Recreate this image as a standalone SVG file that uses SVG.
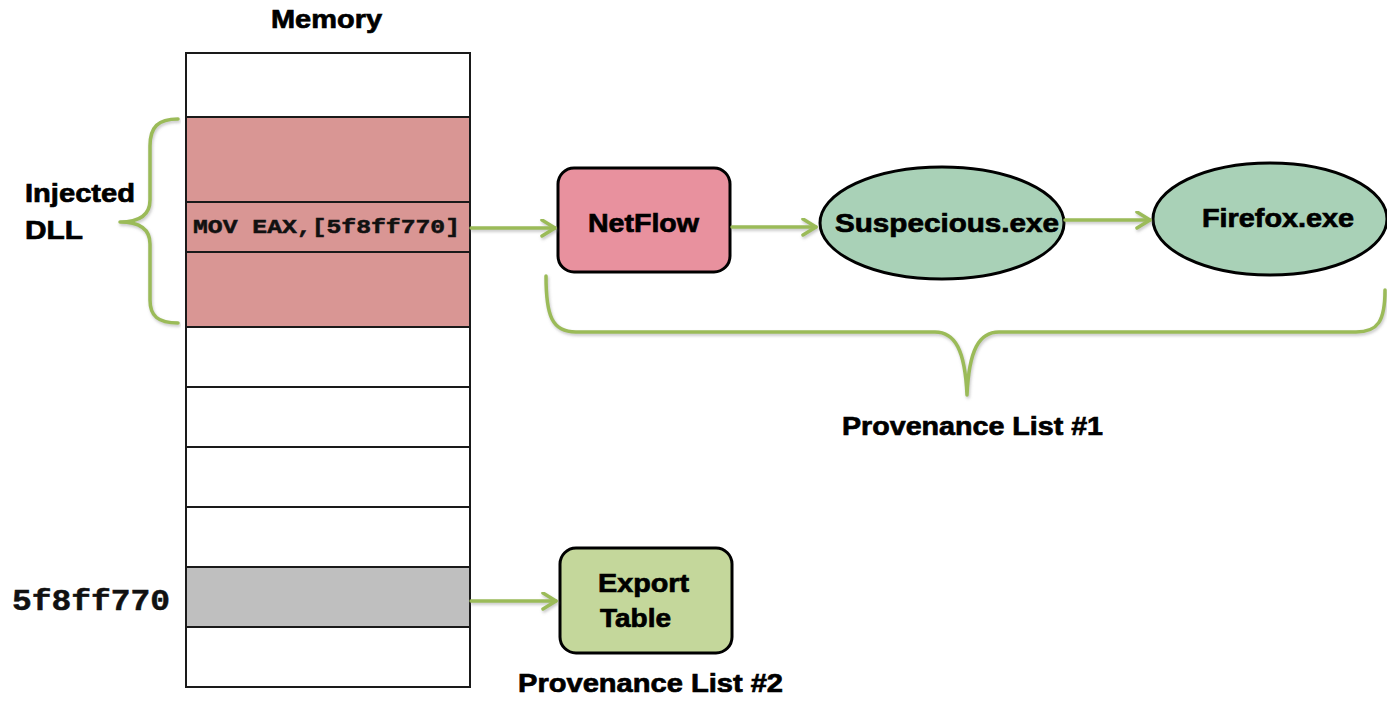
<svg xmlns="http://www.w3.org/2000/svg" width="1387" height="706" viewBox="0 0 1387 706">
  <style>
    .lbl { font-family: "Liberation Sans", Arial, sans-serif; font-weight: bold; font-size: 26px; fill: #000; stroke: #000; stroke-width: 0.7; }
    .mono { font-family: "Liberation Mono", "Courier New", monospace; font-weight: bold; fill: #111; stroke: #111; stroke-width: 0.5; }
    .cell { stroke: #1a1a1a; stroke-width: 2; }
    .link { fill: none; stroke: #9BBB59; stroke-width: 3.5; stroke-linecap: round; }
    .brace { fill: none; stroke: #9BBB59; stroke-width: 3.5; stroke-linecap: round; stroke-linejoin: round; }
    .node { stroke: #000; stroke-width: 3; }
  </style>
  <defs>
    <marker id="arrow" markerUnits="userSpaceOnUse" markerWidth="20" markerHeight="20" refX="15" refY="9" orient="auto">
      <path d="M2,1 L15,9 L2,17" fill="none" stroke="#9BBB59" stroke-width="3.5" stroke-linecap="round" stroke-linejoin="round"/>
    </marker>
    <filter id="shadow" x="-5%" y="-20%" width="110%" height="160%">
      <feDropShadow dx="1" dy="2" stdDeviation="1.5" flood-color="#808080" flood-opacity="0.45"/>
    </filter>
  </defs>

  <rect width="1387" height="706" fill="#ffffff"/>

  <!-- Memory column -->
  <g id="memory">
    <text class="lbl" x="271" y="28" textLength="111" lengthAdjust="spacingAndGlyphs">Memory</text>
    <rect class="cell" x="186" y="53" width="284" height="64" fill="#ffffff"/>
    <rect class="cell" x="186" y="117" width="284" height="85" fill="#D99694"/>
    <rect class="cell" x="186" y="202" width="284" height="50" fill="#D99694"/>
    <rect class="cell" x="186" y="252" width="284" height="75" fill="#D99694"/>
    <rect class="cell" x="186" y="327" width="284" height="60" fill="#ffffff"/>
    <rect class="cell" x="186" y="387" width="284" height="60" fill="#ffffff"/>
    <rect class="cell" x="186" y="447" width="284" height="60" fill="#ffffff"/>
    <rect class="cell" x="186" y="507" width="284" height="60" fill="#ffffff"/>
    <rect class="cell" x="186" y="567" width="284" height="60" fill="#BFBFBF"/>
    <rect class="cell" x="186" y="627" width="284" height="60" fill="#ffffff"/>
    <text class="mono" x="193" y="233" font-size="20" textLength="267" lengthAdjust="spacingAndGlyphs">MOV EAX,[5f8ff770]</text>
  </g>

  <!-- Labels beside the memory column -->
  <g id="injected-dll">
    <text class="lbl" x="25" y="202" textLength="110" lengthAdjust="spacingAndGlyphs">Injected</text>
    <text class="lbl" x="25" y="239" textLength="58" lengthAdjust="spacingAndGlyphs">DLL</text>
    <path class="brace" filter="url(#shadow)" d="M178,119 C158,119 150,127 150,146 L150,200 C150,214 141,222 120,222 C141,222 150,230 150,244 L150,300 C150,316 158,323 178,323"/>
  </g>
  <g id="address">
    <text class="mono" x="12" y="610" font-size="29" textLength="158" lengthAdjust="spacingAndGlyphs">5f8ff770</text>
  </g>

  <!-- Provenance list #1 -->
  <g id="netflow">
    <rect class="node" x="558" y="168" width="172" height="104" rx="16" fill="#E8919E"/>
    <text class="lbl" x="588" y="232" textLength="111" lengthAdjust="spacingAndGlyphs">NetFlow</text>
  </g>
  <g id="suspecious">
    <ellipse class="node" cx="942" cy="223" rx="122" ry="56" fill="#A9D1B7"/>
    <text class="lbl" x="835" y="232" textLength="224" lengthAdjust="spacingAndGlyphs">Suspecious.exe</text>
  </g>
  <g id="firefox">
    <ellipse class="node" cx="1270" cy="219" rx="117" ry="56" fill="#A9D1B7"/>
    <text class="lbl" x="1202" y="227" textLength="152" lengthAdjust="spacingAndGlyphs">Firefox.exe</text>
  </g>
  <g id="provenance-1">
    <path class="brace" filter="url(#shadow)" d="M546,276 C546,316 552,332 576,332 L935,332 C955,332 965,350 967,395 C969,350 979,332 999,332 L1356,332 C1378,332 1385,321 1385,290"/>
    <text class="lbl" x="842" y="435" textLength="261" lengthAdjust="spacingAndGlyphs">Provenance List #1</text>
  </g>

  <!-- Provenance list #2 -->
  <g id="export-table">
    <rect class="node" x="560" y="548" width="172" height="105" rx="16" fill="#C4D79B"/>
    <text class="lbl" x="598" y="592" textLength="91" lengthAdjust="spacingAndGlyphs">Export</text>
    <text class="lbl" x="600" y="627" textLength="71" lengthAdjust="spacingAndGlyphs">Table</text>
  </g>
  <g id="provenance-2">
    <text class="lbl" x="518" y="692" textLength="265" lengthAdjust="spacingAndGlyphs">Provenance List #2</text>
  </g>

  <!-- Connectors -->
  <g id="connectors" filter="url(#shadow)">
    <line class="link" x1="471" y1="228" x2="555" y2="228" marker-end="url(#arrow)"/>
    <line class="link" x1="732" y1="227" x2="816" y2="227" marker-end="url(#arrow)"/>
    <line class="link" x1="1065" y1="220" x2="1150" y2="220" marker-end="url(#arrow)"/>
    <line class="link" x1="471" y1="601" x2="556" y2="601" marker-end="url(#arrow)"/>
  </g>
</svg>
